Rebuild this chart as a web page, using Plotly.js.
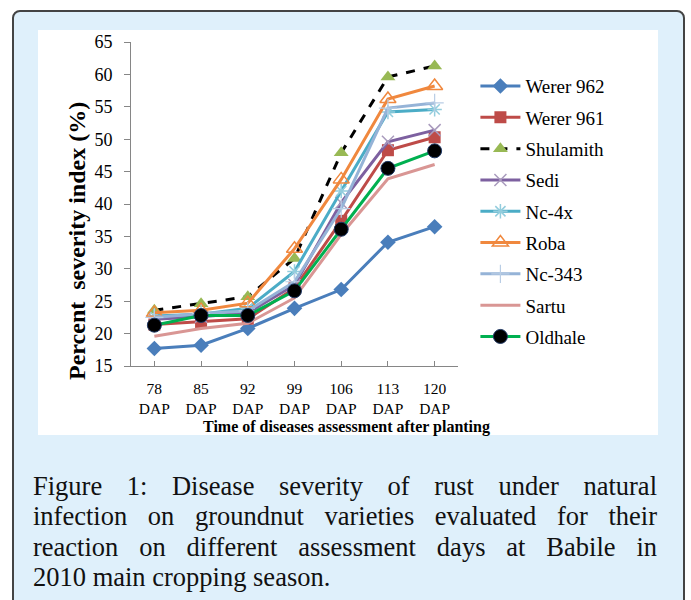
<!DOCTYPE html>
<html>
<head>
<meta charset="utf-8">
<script src="https://cdn.plot.ly/plotly-3.0.1.min.js"></script>
<style>
  html, body { margin: 0; padding: 0; width: 691px; height: 600px; overflow: hidden; background: #ffffff; }
  #frame { position: absolute; left: 12px; top: 10px; width: 673px; height: 620px; background: #dff0fb;
           border: 2px solid #444; border-radius: 8px; box-sizing: border-box; }
  #white { position: absolute; left: 38px; top: 30px; width: 620px; height: 405px; background: #ffffff; }
  #chart { position: absolute; left: 0; top: 0; width: 691px; height: 600px; }
  #caption { position: absolute; left: 33px; top: 471px; width: 624px; font-family: "Liberation Serif", serif;
             font-size: 26.5px; line-height: 30.3px; color: #111; }
  #caption .ln { text-align: justify; text-align-last: justify; white-space: nowrap; }
  #caption .ln.last { text-align: left; text-align-last: left; }
</style>
</head>
<body>
<div id="frame"></div>
<div id="white"></div>
<div id="chart"></div>
<div id="caption">
  <div class="ln">Figure 1: Disease severity of rust under natural</div>
  <div class="ln">infection on groundnut varieties evaluated for their</div>
  <div class="ln">reaction on different assessment days at Babile in</div>
  <div class="ln last">2010 main cropping season.</div>
</div>
<script>
const days = ["78", "85", "92", "99", "106", "113", "120"];
const tickUnit = "DAP";
const categories = days.map(d => d + "<br>" + tickUnit);

const werer962  = [17.7, 18.2, 20.8, 23.9, 26.8, 34.1, 36.5];
const werer961  = [21.4, 21.8, 22.3, 27.0, 37.4, 48.3, 50.3];
const shulamith = [23.6, 24.6, 25.7, 31.6, 47.9, 59.6, 61.3];
const sedi      = [22.2, 22.6, 23.2, 27.5, 40.2, 49.6, 51.4];
const nc4x      = [22.7, 23.0, 23.9, 29.6, 42.0, 54.2, 54.6];
const roba      = [23.2, 23.6, 24.7, 33.1, 43.8, 56.2, 58.2];
const nc343     = [22.5, 23.1, 23.5, 28.0, 39.3, 54.8, 55.6];
const sartu     = [19.6, 20.8, 21.6, 25.5, 35.3, 43.9, 46.1];
const oldhale   = [21.3, 22.8, 22.8, 26.6, 36.1, 45.5, 48.2];

const seriesNames = ["Werer 962", "Werer 961", "Shulamith", "Sedi", "Nc-4x", "Roba", "Nc-343", "Sartu", "Oldhale"];

function tr(name, y, line, marker, mode) {
  return { type: "scatter", mode: mode || "lines+markers", name: name, x: categories, y: y,
           line: line, marker: marker, legendgroup: name, cliponaxis: false };
}

const traces = [
  tr(seriesNames[0], werer962, {color: "#4a7ebb", width: 3}, {symbol: "diamond", size: 12, color: "#4a7ebb"}),
  tr(seriesNames[1], werer961, {color: "#be4b48", width: 3}, {symbol: "square", size: 12, color: "#be4b48"}),
  tr(seriesNames[2], shulamith, {color: "#000000", width: 3, dash: "dash"}, {symbol: "triangle-up", size: 13, color: "#98b954"}),
  tr(seriesNames[3], sedi, {color: "#7d60a0", width: 3}, {symbol: "x-thin-open", size: 12, color: "#a99bbd", line: {width: 1.5, color: "#a99bbd"}}),
  tr(seriesNames[4], nc4x, {color: "#4bacc6", width: 3}, {symbol: "asterisk-open", size: 12, color: "#93cddd", line: {width: 1.5, color: "#93cddd"}}),
  tr(seriesNames[5], roba, {color: "#f0883e", width: 3}, {symbol: "triangle-up-open", size: 14, color: "#f0883e", line: {width: 1.5, color: "#f0883e"}}),
  tr(seriesNames[6], nc343, {color: "#95b3d7", width: 3}, {symbol: "cross-thin-open", size: 13, color: "#b9cde5", line: {width: 1.2, color: "#b9cde5"}}),
  tr(seriesNames[7], sartu, {color: "#d99694", width: 3}, {size: 1}, "lines"),
  tr(seriesNames[8], oldhale, {color: "#00b050", width: 3}, {symbol: "circle", size: 14, color: "#000000", line: {width: 1, color: "#1f3864"}})
];

const fontFam = "'Liberation Serif', 'Times New Roman', serif";

const layout = {
  width: 691, height: 600,
  margin: {l: 131, r: 233, t: 42, b: 234, pad: 0},
  paper_bgcolor: "rgba(0,0,0,0)",
  plot_bgcolor: "rgba(0,0,0,0)",
  font: {family: fontFam, color: "#000"},
  showlegend: true,
  legend: {
    xref: "container", yref: "container", x: 0.688, y: 0.888, xanchor: "left", yanchor: "top",
    font: {family: fontFam, size: 19, color: "#000"}, tracegroupgap: 3.6, bgcolor: "rgba(0,0,0,0)",
    itemwidth: 40
  },
  xaxis: {
    type: "category", range: [-0.5, 6.5], showgrid: false, zeroline: false,
    showline: true, linecolor: "#868686", linewidth: 1,
    ticks: "inside", ticklen: 5, tickcolor: "#868686",
    tickfont: {family: fontFam, size: 15.5, color: "#000"},
    ticklabelstandoff: 8
  },
  yaxis: {
    range: [15, 65], dtick: 5, showgrid: false, zeroline: false,
    showline: true, linecolor: "#868686", linewidth: 1,
    ticks: "outside", ticklen: 6, tickcolor: "#868686",
    tickfont: {family: fontFam, size: 18, color: "#000"},
    ticklabelstandoff: 8
  },
  annotations: [
    {xref: "paper", yref: "paper", x: -0.163, y: 0.385, text: "<b>Percent&nbsp; severity index (%)</b>",
     textangle: -90, showarrow: false, font: {family: fontFam, size: 24, color: "#000"}, xanchor: "center", yanchor: "middle"},
    {xref: "paper", yref: "paper", x: 0.658, y: -0.188, text: "<b>Time of diseases assessment after planting</b>",
     showarrow: false, font: {family: fontFam, size: 16, color: "#000"}, xanchor: "center", yanchor: "middle"}
  ]
};

Plotly.newPlot("chart", traces, layout, {displayModeBar: false, staticPlot: true});
</script>
</body>
</html>
